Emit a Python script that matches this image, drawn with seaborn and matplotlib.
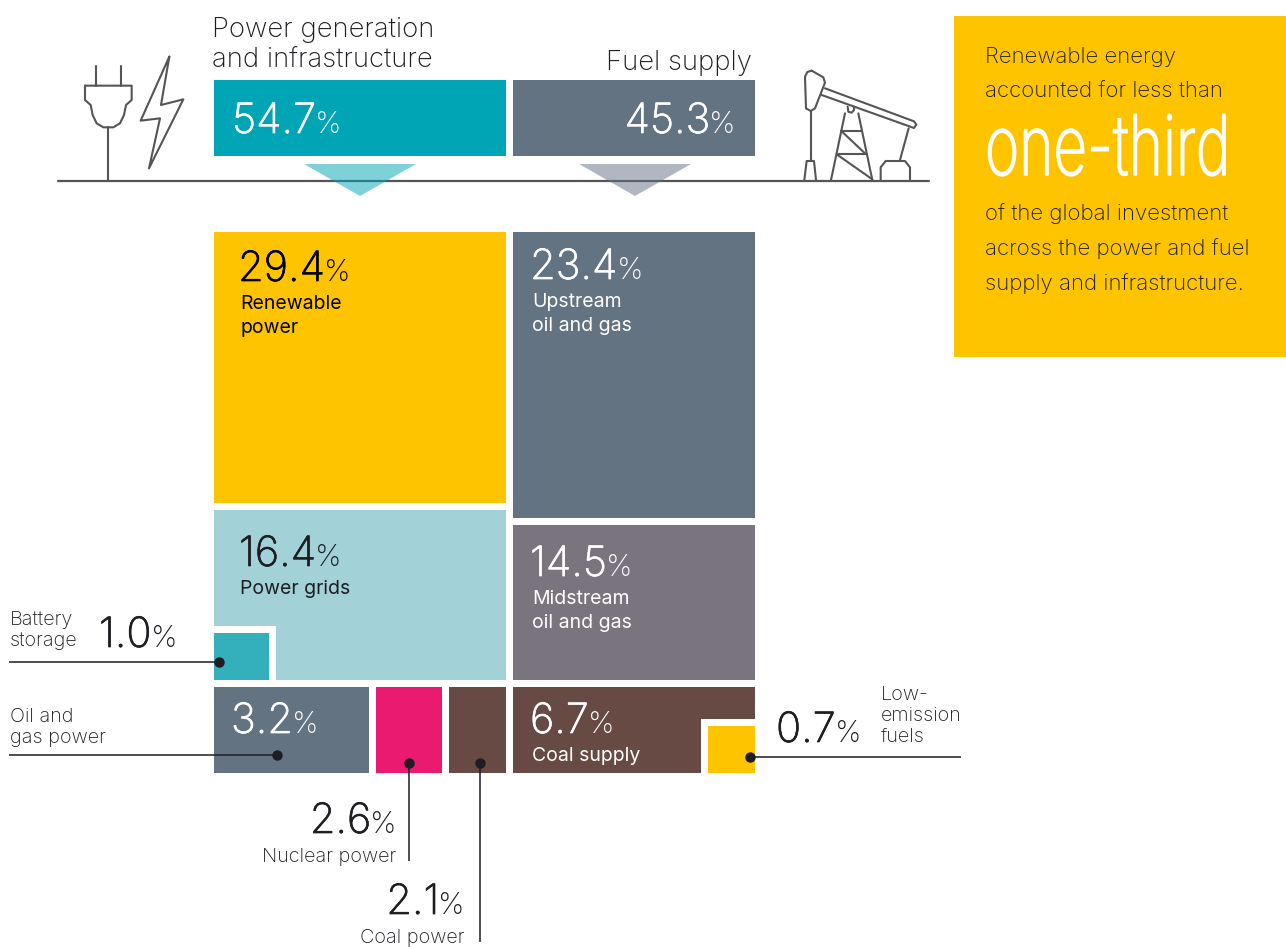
import matplotlib
matplotlib.use("Agg")
import matplotlib.pyplot as plt
import seaborn as sns
from matplotlib.patches import Polygon
from matplotlib.patheffects import AbstractPathEffect, withStroke
from matplotlib.transforms import Affine2D

# shares of global investment, %
sector_names = ["Power generation\nand infrastructure", "Fuel supply"]
sector_shares = [54.7, 45.3]

power_labels = ["Renewable\npower", "Power grids", "Battery\nstorage", "Oil and\ngas power", "Nuclear power", "Coal power"]
power_shares = [29.4, 16.4, 1.0, 3.2, 2.6, 2.1]
fuel_labels = ["Upstream\noil and gas", "Midstream\noil and gas", "Coal supply", "Low-\nemission\nfuels"]
fuel_shares = [23.4, 14.5, 6.7, 0.7]

callout_top = ["Renewable energy", "accounted for less than"]
callout_big = "one-third"
callout_bottom = ["of the global investment", "across the power and fuel", "supply and infrastructure."]

# colours
TEAL = "#00a5b5"
SLATE = "#647382"
YELLOW = "#ffc400"
PALE_TEAL = "#a2d2d7"
MID_TEAL = "#33b0bc"
MAUVE = "#79747e"
PINK = "#e91a70"
BROWN = "#674a43"
INK = "#1d1d22"
ICON = "#555555"

# treemap layout, in pixels of the 1286x947 canvas
MAP_LEFT = 214
MAP_WIDTH = 534
GAP = 7
MAP_TOP = 232
power_rows = [271, 170, 86]
fuel_rows = [286, 155, 86]
bottom_weights = [155, 66, 57]
INSET = 47  # side of the little inset squares

sns.set_theme(style="white")
plt.rcParams["font.family"] = ["Inter", "DejaVu Sans"]

fig, ax = plt.subplots(figsize=(12.86, 9.47), dpi=100)
fig.subplots_adjust(left=0, right=1, bottom=0, top=1)


class Stretch(AbstractPathEffect):
    """Scales the glyphs around the text origin (no condensed font is installed)."""

    def __init__(self, sx, sy, stroke=0.0):
        super().__init__()
        self.sx = sx
        self.sy = sy
        self.stroke = stroke

    def draw_path(self, renderer, gc, tpath, affine, rgbFace=None):
        gc0 = renderer.new_gc()
        gc0.copy_properties(gc)
        gc0.set_linewidth(self.stroke)
        gc0.set_foreground(rgbFace)
        renderer.draw_path(gc0, tpath, Affine2D().scale(self.sx, self.sy) + affine, rgbFace)
        gc0.restore()


def tile(left, top, width, height, color):
    sns.barplot(x=[left + width / 2], y=[height], bottom=top, width=width, native_scale=True,
                orient="x", color=color, saturation=1, linewidth=0, ax=ax, errorbar=None)


def set_canvas():
    ax.set_xlim(0, 1286)
    ax.set_ylim(947, 0)


def share_text(x, y, value, color=INK, ha="left"):
    """Big number with a smaller, lighter percent sign behind it."""
    renderer = fig.canvas.get_renderer()
    num = ax.text(x, y, f"{value:.1f}", fontsize=30, color=color, va="baseline", fontweight="light",
                  path_effects=[withStroke(linewidth=0.5, foreground=color)])
    pct = ax.text(x, y, "%", fontsize=21.5, color=color, va="baseline", fontweight="light")
    num_w = num.get_window_extent(renderer).width
    pct_w = pct.get_window_extent(renderer).width
    if ha == "right":
        x = x - num_w - pct_w + 2
    else:
        x = x - 2
    num.set_x(x)
    pct.set_x(x + num_w - 1)


def label_text(x, y, text, color=INK, ha="left", size=14.3, step=24, weight="light"):
    for i, line in enumerate(text.split("\n")):
        ax.text(x, y + i * step, line, fontsize=size, color=color, ha=ha, va="baseline", fontweight=weight)


def leader(xs, ys):
    ax.plot(xs, ys, color=INK, lw=1.1, solid_capstyle="butt", zorder=5)
    ax.plot(xs[-1], ys[-1], "o", color=INK, ms=7.5, mew=0, zorder=6)


def icon_line(points, closed=False):
    xs, ys = zip(*(points + points[:1] if closed else points))
    ax.plot(xs, ys, color=ICON, lw=1.5, solid_joinstyle="round", solid_capstyle="round", zorder=3)


def crop(points, x0, y0):
    # icon outlines were traced in a 3x crop of the picture
    return [(x0 + px / 3, y0 + py / 3) for px, py in points]


# column widths follow the sector shares
power_w = MAP_WIDTH * sector_shares[0] / 100
fuel_w = MAP_WIDTH * sector_shares[1] / 100
fuel_left = MAP_LEFT + power_w + GAP

# sector bars
tile(MAP_LEFT, 80, power_w, 76, TEAL)
tile(fuel_left, 80, fuel_w, 76, SLATE)

# power column
y = MAP_TOP
tile(MAP_LEFT, y, power_w, power_rows[0], YELLOW)
y_grid = y + power_rows[0] + GAP
tile(MAP_LEFT, y_grid, power_w, power_rows[1], PALE_TEAL)
y_low = y_grid + power_rows[1] + GAP
tile(MAP_LEFT, y_low - GAP - 54, 62, 54, "white")
tile(MAP_LEFT, y_low - GAP - INSET, 55, INSET, MID_TEAL)
row_w = power_w - 2 * GAP
x = MAP_LEFT
for weight, color in zip(bottom_weights, [SLATE, PINK, BROWN]):
    w = row_w * weight / sum(bottom_weights)
    tile(x, y_low, w, power_rows[2], color)
    x += w + GAP

# fuel column
y = MAP_TOP
tile(fuel_left, y, fuel_w, fuel_rows[0], SLATE)
y_mid = y + fuel_rows[0] + GAP
tile(fuel_left, y_mid, fuel_w, fuel_rows[1], MAUVE)
y_fuel_low = y_mid + fuel_rows[1] + GAP
tile(fuel_left, y_fuel_low, fuel_w, fuel_rows[2], BROWN)
tile(MAP_LEFT + MAP_WIDTH + GAP - INSET - GAP, y_fuel_low + 86 - INSET - GAP, INSET + GAP, INSET + GAP, "white")
tile(MAP_LEFT + MAP_WIDTH + GAP - INSET, y_fuel_low + 86 - INSET, INSET, INSET, YELLOW)

# callout box
tile(954, 16, 332, 341, YELLOW)
set_canvas()

# ground line and arrows
ax.plot([58, 929], [181, 181], color=ICON, lw=1.6, zorder=2)
ax.add_patch(Polygon([(304, 164), (416, 164), (360, 196)], closed=True, fc=TEAL, ec="none", alpha=0.5, zorder=3))
ax.add_patch(Polygon([(579, 164), (691, 164), (635, 196)], closed=True, fc="#647082", ec="none", alpha=0.5, zorder=3))

# plug and lightning
icon_line(crop([(137, 47), (137, 107)], 50, 50))
icon_line(crop([(212, 47), (212, 107)], 50, 50))
icon_line(crop([(175, 232), (175, 392)], 50, 50))
icon_line(crop([(105, 107), (245, 107), (245, 150), (228, 165), (222, 195), (210, 220), (190, 232),
                (160, 232), (140, 220), (128, 195), (122, 165), (105, 150)], 50, 50), closed=True)
icon_line(crop([(358, 20), (272, 212), (330, 205), (297, 355), (400, 148), (333, 165)], 50, 50), closed=True)

# pump jack
icon_line(crop([(125, 32), (160, 52), (165, 68), (135, 145), (122, 153), (108, 145), (105, 50), (112, 36)], 770, 60), closed=True)
icon_line(crop([(165, 85), (432, 184), (439, 194), (432, 204), (155, 105)], 770, 60))
icon_line(crop([(122, 153), (122, 303)], 770, 60))
icon_line(crop([(103, 360), (110, 303), (132, 303), (138, 360)], 770, 60))
icon_line(crop([(225, 160), (183, 360)], 770, 60))
icon_line(crop([(265, 160), (307, 360)], 770, 60))
icon_line(crop([(214, 212), (275, 212)], 770, 60))
icon_line(crop([(201, 283), (287, 283)], 770, 60))
icon_line(crop([(216, 215), (285, 280)], 770, 60))
icon_line(crop([(203, 285), (307, 358)], 770, 60))
icon_line(crop([(233, 140), (235, 155), (245, 158), (252, 150), (252, 140)], 770, 60))
icon_line(crop([(416, 205), (390, 300)], 770, 60))
icon_line(crop([(332, 360), (332, 322), (347, 303), (405, 303), (420, 322), (420, 360)], 770, 60))

# headers
label_text(212, 37, sector_names[0], size=19.8, step=31)
label_text(752, 70, sector_names[1], size=19.8, ha="right")
share_text(234, 133, sector_shares[0], color="white")
share_text(735, 133, sector_shares[1], color="white", ha="right")

# values on the tiles
share_text(240, 281, power_shares[0], color="black")
label_text(240, 309, power_labels[0], color="black", weight="normal", size=14)
share_text(532, 279, fuel_shares[0], color="white")
label_text(532, 307, fuel_labels[0], color="white", weight="normal", size=14)
share_text(241, 566, power_shares[1])
label_text(240, 594, power_labels[1], weight="normal", size=14)
share_text(532, 576, fuel_shares[1], color="white")
label_text(532, 604, fuel_labels[1], color="white", weight="normal", size=14)
share_text(233, 733, power_shares[3], color="white")
share_text(532, 733, fuel_shares[2], color="white")
label_text(532, 761, fuel_labels[2], color="white", weight="normal", size=14)

# outside call-outs
share_text(101, 647, power_shares[2])
label_text(10, 625, power_labels[2], step=21)
leader([9, 219], [662, 662])
label_text(10, 722, power_labels[3], step=21)
leader([9, 277], [755, 755])
share_text(396, 833, power_shares[4], ha="right")
label_text(396, 862, power_labels[4], ha="right")
leader([409, 409], [861, 763])
share_text(464, 914, power_shares[5], ha="right")
label_text(464, 943, power_labels[5], ha="right")
leader([480, 480], [942, 763])
share_text(778, 742, fuel_shares[3])
label_text(881, 700, fuel_labels[3], step=21)
leader([961, 750], [757, 757])

# callout text
for i, line in enumerate(callout_top):
    label_text(985, 63 + i * 35, line, size=16)
big = ax.text(985, 175, callout_big, fontsize=40, color="white", va="baseline", fontweight="light")
big.set_path_effects([Stretch(1.05, 1.5, stroke=1.0)])
for i, line in enumerate(callout_bottom):
    label_text(985, 220 + i * 35, line, size=16)

set_canvas()
ax.axis("off")
fig.savefig("out.png", dpi=100, facecolor="white")
